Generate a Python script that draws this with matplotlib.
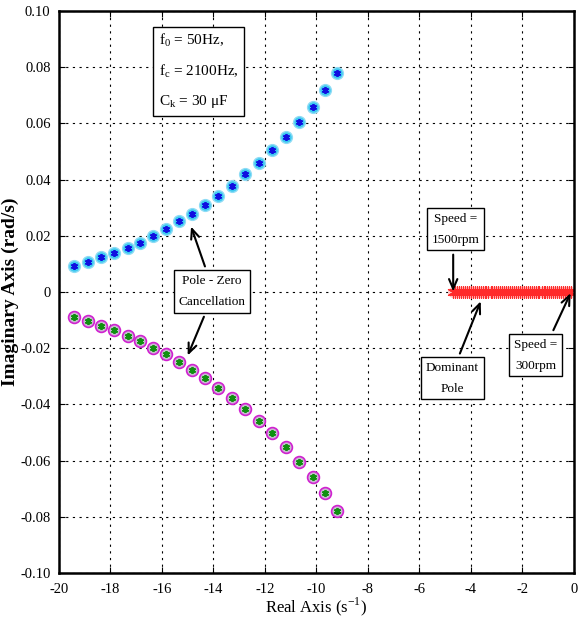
import matplotlib
matplotlib.use("Agg")
import matplotlib.pyplot as plt

plt.rcParams['font.family'] = ['Liberation Serif', 'DejaVu Serif']
plt.rcParams['mathtext.fontset'] = 'custom'
plt.rcParams['mathtext.rm'] = 'Liberation Serif'
plt.rcParams['axes.unicode_minus'] = False

# pole positions
branch_re = [-19.41, -18.86, -18.35, -17.85, -17.33, -16.84, -16.33, -15.84, -15.35, -14.83, -14.33,
             -13.81, -13.29, -12.76, -12.23, -11.71, -11.18, -10.66, -10.14, -9.66, -9.21]
upper_im = [0.0093, 0.0105, 0.0123, 0.0139, 0.0158, 0.0176, 0.0200, 0.0224, 0.0251, 0.0277, 0.0310,
            0.0341, 0.0378, 0.0420, 0.0459, 0.0504, 0.0553, 0.0605, 0.0659, 0.0719, 0.0780]
lower_im = [-0.0090, -0.0104, -0.0120, -0.0137, -0.0155, -0.0175, -0.0198, -0.0222, -0.0248, -0.0276, -0.0307,
            -0.0341, -0.0378, -0.0416, -0.0458, -0.0503, -0.0552, -0.0604, -0.0657, -0.0717, -0.0778]

dominant_re = [-4.69, -4.61, -4.54, -4.46, -4.39, -4.31, -4.23, -4.16, -4.08, -4.01, -3.93, -3.85,
               -3.78, -3.70, -3.62, -3.55, -3.47, -3.40, -3.32, -3.24, -3.17, -3.09, -3.01, -2.94,
               -2.86, -2.79, -2.71, -2.63, -2.56, -2.48, -2.40, -2.33, -2.25, -2.18, -2.10, -2.02,
               -1.95, -1.87, -1.79, -1.72, -1.64, -1.57, -1.49, -1.41, -1.34, -1.26, -1.18, -1.11,
               -1.03, -0.96, -0.88, -0.80, -0.73, -0.65, -0.57, -0.50, -0.42, -0.35, -0.27, -0.19, -0.12]
dominant_im = [0.0] * len(dominant_re)

xticks = [-20, -18, -16, -14, -12, -10, -8, -6, -4, -2, 0]
yticks = [0.10, 0.08, 0.06, 0.04, 0.02, 0, -0.02, -0.04, -0.06, -0.08, -0.10]
ylabels = ['0.10', '0.08', '0.06', '0.04', '0.02', '0', '-0.02', '-0.04', '-0.06', '-0.08', '-0.10']

fig = plt.figure(figsize=(5.78, 6.23), dpi=100)
ax = fig.add_axes([0.102, 0.0803, 0.891, 0.902])

ax.plot(branch_re, upper_im, 'o', ms=8.5, mfc='#3cc8f0', mec='#8fdcf5', mew=1)
ax.plot(branch_re, upper_im, marker=(6, 2, 0), ls='none', ms=5, mew=1.3, color='#1010e0')
ax.plot(branch_re, lower_im, 'o', ms=8.5, mfc='#c8b8d0', mec='#d020d0', mew=1.2)
ax.plot(branch_re, lower_im, marker=(6, 2, 0), ls='none', ms=5, mew=1.3, color='#109010')
ax.plot(dominant_re, dominant_im, 'o', ms=8, mfc='#ffc8c8', mec='none')
ax.plot(dominant_re, dominant_im, marker=(6, 2, 0), ls='none', ms=9, mec='#ff2a2a', mew=0.8)

ax.set_xlim(-20, 0)
ax.set_ylim(-0.10, 0.10)
ax.set_xticks(xticks)
ax.set_xticklabels([str(t) for t in xticks])
ax.set_yticks(yticks)
ax.set_yticklabels(ylabels)
ax.tick_params(direction='in', length=4, labelsize=10.5, top=True, right=True, pad=7)
ax.tick_params(axis='y', pad=6)
ax.grid(True, color='black', linestyle=(0, (2, 4)), linewidth=0.8)
for s in ax.spines.values():
    s.set_linewidth(1.8)

ax.set_xlabel('Real Axis (s$^{\\mathregular{-1}}$)', fontsize=12, labelpad=0)
ax.set_ylabel('Imaginary Axis (rad/s)', fontsize=14, fontweight='bold')
ax.yaxis.set_label_coords(-0.078, 0.5)

box = dict(boxstyle='square,pad=0.35', fc='white', ec='black', lw=1)
ax.text(-14.58, 0.0787, '$\\mathregular{f_0}$ = 50Hz,\n$\\mathregular{f_c}$ = 2100Hz,\n$\\mathregular{C_k}$ = 30 μF',
        fontsize=11, ha='center', va='center', linespacing=2.1, bbox=box, multialignment='left')
ax.text(-14.07, 0.0002, 'Pole - Zero\nCancellation', fontsize=9.5, ha='center', va='center',
        linespacing=2.0, bbox=box)
ax.text(-4.61, 0.0223, 'Speed =\n1500rpm', fontsize=9.5, ha='center', va='center',
        linespacing=2.0, bbox=box)
ax.text(-4.72, -0.0307, 'Dominant\nPole', fontsize=9.5, ha='center', va='center',
        linespacing=2.0, bbox=box)
ax.text(-1.495, -0.0225, 'Speed =\n300rpm', fontsize=9.5, ha='center', va='center',
        linespacing=2.0, bbox=box)

arrow = dict(arrowstyle='->,head_length=0.7,head_width=0.3', color='black', lw=1.5,
             shrinkA=0, shrinkB=0)
ax.annotate('', xy=(-14.87, 0.0233), xytext=(-14.33, 0.0091), arrowprops=arrow)
ax.annotate('', xy=(-15.0, -0.0226), xytext=(-14.37, -0.0088), arrowprops=arrow)
ax.annotate('', xy=(-4.69, 0.0002), xytext=(-4.69, 0.0133), arrowprops=arrow)
ax.annotate('', xy=(-3.62, -0.0033), xytext=(-4.43, -0.0219), arrowprops=arrow)
ax.annotate('', xy=(-0.13, -0.0004), xytext=(-0.80, -0.0136), arrowprops=arrow)

fig.savefig('out.png', dpi=100)
